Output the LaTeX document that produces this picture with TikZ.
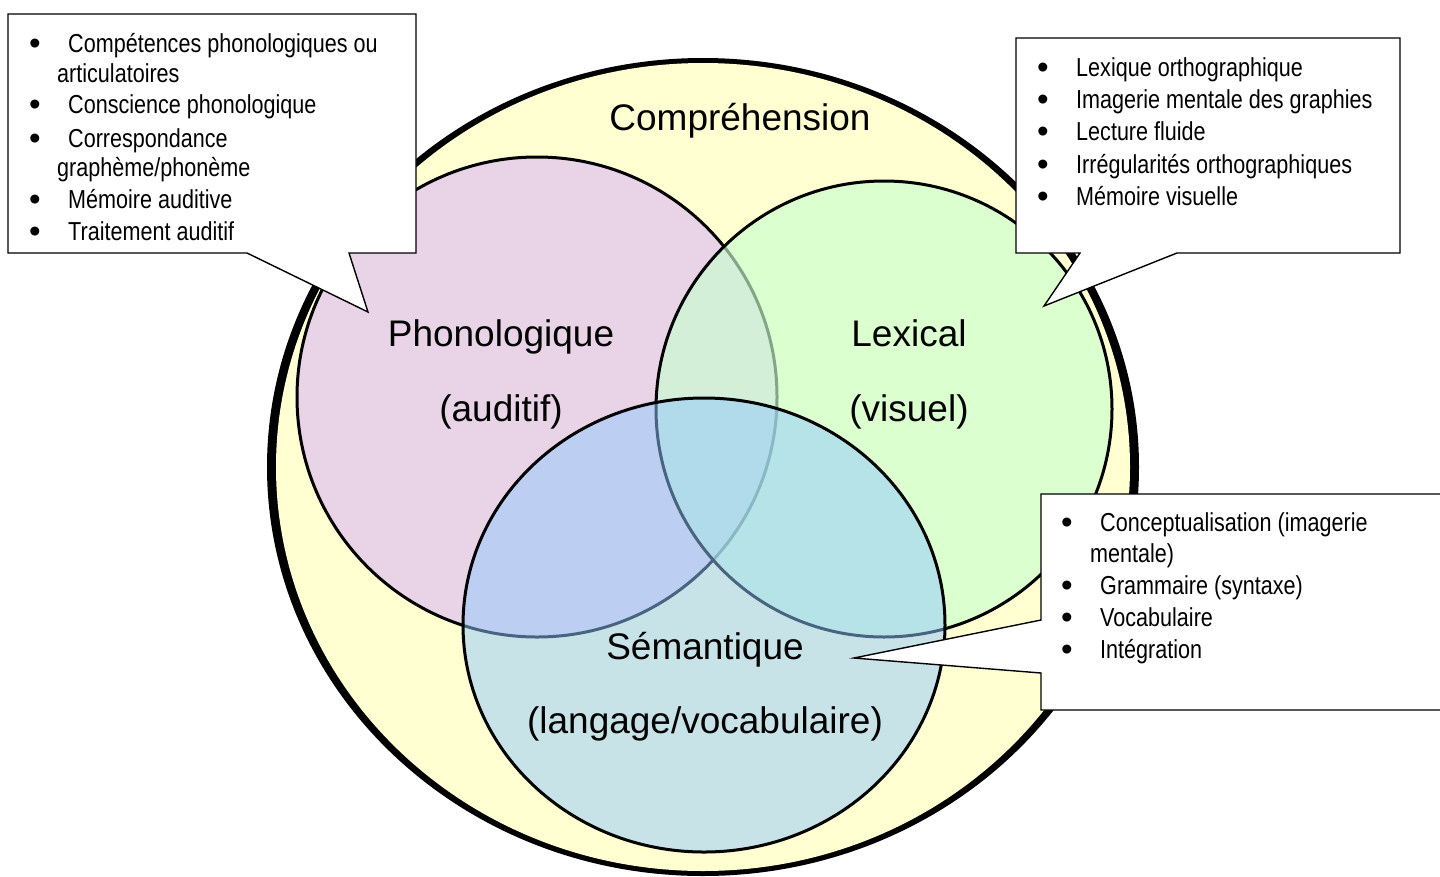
\documentclass[tikz,border=0pt]{standalone}
\usepackage{fontspec}
\setmainfont{Liberation Sans}
\newfontfamily\narrowfont[FakeStretch=0.83]{Liberation Sans}
\definecolor{compY}{RGB}{255,255,209}
\definecolor{phonP}{RGB}{232,212,230}
\definecolor{lexG}{RGB}{201,255,207}
\definecolor{semB}{RGB}{145,201,255}
\tikzset{
  setcircle/.style={line width=3pt, draw=black},
  bigtxt/.style={anchor=base, inner sep=0pt, font=\fontsize{37}{44}\selectfont},
  itemtxt/.style={anchor=base west, inner sep=0pt, font=\narrowfont\fontsize{26}{32}\selectfont},
  bul/.style={anchor=base, inner sep=0pt, yshift=-2pt, font=\fontsize{33}{36}\selectfont},
  callout/.style={draw=black, fill=white, line width=1.4pt, line join=miter}
}
\begin{document}
\begin{tikzpicture}[x=1pt,y=-1pt]
\useasboundingbox (0,0) rectangle (1440,876);
% Comprehension ellipse
\fill[black] (703,467) ellipse [x radius=436pt, y radius=409pt];
\fill[compY] (703,467) ellipse [x radius=427pt, y radius=404pt];
% Phonologique
\draw[setcircle, fill=phonP] (537,397) circle [radius=240pt];
% Lexical
\fill[lexG, fill opacity=0.65] (884,409) circle [radius=228pt];
\draw[setcircle] (884,409) circle [radius=228pt];
% Semantique
\fill[semB, fill opacity=0.5] (704,625) ellipse [x radius=241pt, y radius=227pt];
\draw[setcircle] (704,625) ellipse [x radius=241pt, y radius=227pt];
% labels
\node[bigtxt] (comp) at (740,130) {Compréhension};
\node[bigtxt] (phon1) at (501,346) {Phonologique};
\node[bigtxt] (phon2) at (501,421) {(auditif)};
\node[bigtxt] (lex1) at (909,346) {Lexical};
\node[bigtxt] (lex2) at (909,421) {(visuel)};
\node[bigtxt] (sem1) at (705,659) {Sémantique};
\node[bigtxt] (sem2) at (705,733) {(langage/vocabulaire)};
% callouts
\draw[callout] (8,14) -- (416,14) -- (416,253) -- (349,253) -- (368,312) -- (247,253) -- (8,253) -- cycle;
\draw[callout] (1016,38) -- (1400,38) -- (1400,253) -- (1177,253) -- (1044,306) -- (1080,253) -- (1016,253) -- cycle;
\draw[callout] (1041,494) -- (1450,494) -- (1450,710) -- (1041,710) -- (1041,673) -- (854,658) -- (1041,620) -- cycle;
% top-left list
\node[bul] (tlb1) at (35,52) {•};
\node[itemtxt] (tl1) at (68,52) {Compétences phonologiques ou};
\node[itemtxt] (tl1b) at (57,82) {articulatoires};
\node[bul] (tlb2) at (35,113) {•};
\node[itemtxt] (tl2) at (68,113) {Conscience phonologique};
\node[bul] (tlb3) at (35,147) {•};
\node[itemtxt] (tl3) at (68,147) {Correspondance};
\node[itemtxt] (tl3b) at (57,176) {graphème/phonème};
\node[bul] (tlb4) at (35,208) {•};
\node[itemtxt] (tl4) at (68,208) {Mémoire auditive};
\node[bul] (tlb5) at (35,240) {•};
\node[itemtxt] (tl5) at (68,240) {Traitement auditif};
% top-right list
\node[bul] (trb1) at (1043,76) {•};
\node[itemtxt] (tr1) at (1076,76) {Lexique orthographique};
\node[bul] (trb2) at (1043,108) {•};
\node[itemtxt] (tr2) at (1076,108) {Imagerie mentale des graphies};
\node[bul] (trb3) at (1043,140) {•};
\node[itemtxt] (tr3) at (1076,140) {Lecture fluide};
\node[bul] (trb4) at (1043,173) {•};
\node[itemtxt] (tr4) at (1076,173) {Irrégularités orthographiques};
\node[bul] (trb5) at (1043,205) {•};
\node[itemtxt] (tr5) at (1076,205) {Mémoire visuelle};
% bottom-right list
\node[bul] (brb1) at (1067,531) {•};
\node[itemtxt] (br1) at (1100,531) {Conceptualisation (imagerie};
\node[itemtxt] (br1b) at (1090,562) {mentale)};
\node[bul] (brb2) at (1067,594) {•};
\node[itemtxt] (br2) at (1100,594) {Grammaire (syntaxe)};
\node[bul] (brb3) at (1067,626) {•};
\node[itemtxt] (br3) at (1100,626) {Vocabulaire};
\node[bul] (brb4) at (1067,658) {•};
\node[itemtxt] (br4) at (1100,658) {Intégration};
\end{tikzpicture}
\end{document}
